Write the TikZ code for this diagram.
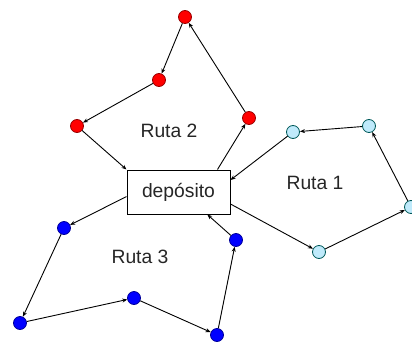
\documentclass[tikz,border=0pt]{standalone}
\usepackage{fontspec}
\setmainfont{Liberation Sans}
\usetikzlibrary{arrows.meta}
\begin{document}
\begin{tikzpicture}[x=1pt,y=-1pt,
  stop/.style={circle,inner sep=0pt,minimum size=13pt,line width=0.8pt},
  redstop/.style={stop,fill=red,draw=red!60!black},
  cyanstop/.style={stop,fill=cyan!25,draw=teal!70!black},
  bluestop/.style={stop,fill=blue,draw=blue!60!black},
  link/.style={line width=0.9pt,-{Stealth[length=5pt,width=4pt]}},
  lbl/.style={font=\fontsize{19.3}{21}\selectfont,text=black!85}]
\useasboundingbox (0,0) rectangle (412,343);
\node[draw,line width=1pt,fill=white,minimum width=103pt,minimum height=44pt,inner sep=0pt,lbl] (depot) at (178.5,192) {depósito};
% red
\node[redstop] (r1) at (185,17) {};
\node[redstop] (r2) at (159,80) {};
\node[redstop] (r3) at (77,126) {};
\node[redstop] (r4) at (249,118) {};
% cyan
\node[cyanstop] (c1) at (293,132) {};
\node[cyanstop] (c2) at (369,126) {};
\node[cyanstop] (c3) at (411,207) {};
\node[cyanstop] (c4) at (319,252) {};
% blue
\node[bluestop] (b1) at (64,228) {};
\node[bluestop] (b2) at (20,323) {};
\node[bluestop] (b3) at (134,298) {};
\node[bluestop] (b4) at (217,335) {};
\node[bluestop] (b5) at (236,240) {};
% labels
\node[lbl] (l2) at (169,131) {Ruta 2};
\node[lbl] (l1) at (315,183) {Ruta 1};
\node[lbl] (l3) at (140,257) {Ruta 3};
% route 2
\draw[link] (depot.30) -- (r4);
\draw[link] (r4) -- (r1);
\draw[link] (r1) -- (r2);
\draw[link] (r2) -- (r3);
\draw[link] (r3) -- (depot.north west);
% route 1
\draw[link] (depot.-13) -- (c4);
\draw[link] (c4) -- (c3);
\draw[link] (c3) -- (c2);
\draw[link] (c2) -- (c1);
\draw[link] (c1) -- (depot.13);
% route 3
\draw[link] (depot.185) -- (b1);
\draw[link] (b1) -- (b2);
\draw[link] (b2) -- (b3);
\draw[link] (b3) -- (b4);
\draw[link] (b4) -- (b5);
\draw[link] (b5) -- (depot.-38);
\end{tikzpicture}
\end{document}
